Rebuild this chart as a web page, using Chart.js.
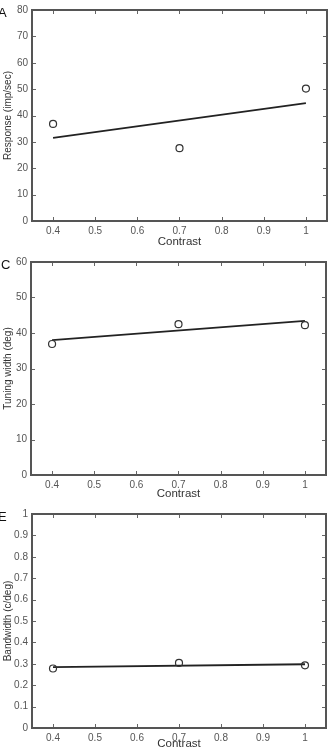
<!DOCTYPE html>
<html>
<head>
<meta charset="utf-8">
<script src="https://cdn.jsdelivr.net/npm/chart.js@4/dist/chart.umd.min.js"></script>
<style>
  body { margin: 0; background: #fff; width: 333px; height: 750px; overflow: hidden; font-family: "Liberation Sans", Arial, sans-serif; }
  .panel { position: relative; width: 333px; height: 250px; }
  .panel canvas { position: absolute; left: 0; top: 0; }
  .tag { position: absolute; font-size: 13px; line-height: 1; color: #111; }
</style>
</head>
<body>
<div class="panel"><canvas id="chartA" width="333" height="250"></canvas><span class="tag" style="left:-2px;top:6px">A</span></div>
<div class="panel"><canvas id="chartC" width="333" height="250"></canvas><span class="tag" style="left:1px;top:8px">C</span></div>
<div class="panel"><canvas id="chartE" width="333" height="250"></canvas><span class="tag" style="left:-2px;top:10px">E</span></div>
<script>
// measured points, one per contrast level
const contrast = [0.4, 0.7, 1]
const fitX = [0.4, 1]

const responseA = [36.8, 27.6, 50.2]
const responseFit = [31.5, 44.7]

const tuningC = [36.9, 42.5, 42.2]
const tuningFit = [38.0, 43.4]

const bandwidthE = [0.278, 0.304, 0.293]
const bandwidthFit = [0.284, 0.298]

const xTicks = [0.4, 0.5, 0.6, 0.7, 0.8, 0.9, 1]
const yTicksA = [0, 10, 20, 30, 40, 50, 60, 70, 80]
const yTicksC = [0, 10, 20, 30, 40, 50, 60]
const yTicksE = [0, 0.1, 0.2, 0.3, 0.4, 0.5, 0.6, 0.7, 0.8, 0.9, 1]

const tickColor = "#555"
const fmt = v => String(Math.round(v * 10) / 10)

// box frame + inward ticks on all four sides
const boxTicks = {
  id: "boxTicks",
  afterDraw(chart) {
    const { ctx, chartArea: a, scales: { x, y } } = chart
    ctx.save()
    ctx.strokeStyle = "#666"
    ctx.lineWidth = 1
    ctx.beginPath()
    x.ticks.forEach(t => {
      const px = Math.round(x.getPixelForValue(t.value)) + 0.5
      ctx.moveTo(px, a.bottom); ctx.lineTo(px, a.bottom - 4)
      ctx.moveTo(px, a.top); ctx.lineTo(px, a.top + 4)
    })
    y.ticks.forEach(t => {
      const py = Math.round(y.getPixelForValue(t.value)) + 0.5
      ctx.moveTo(a.left, py); ctx.lineTo(a.left + 4, py)
      ctx.moveTo(a.right, py); ctx.lineTo(a.right - 4, py)
    })
    ctx.stroke()
    ctx.strokeStyle = "#555"
    ctx.lineWidth = 2
    ctx.strokeRect(a.left, a.top, a.right - a.left, a.bottom - a.top)
    ctx.restore()
  }
}

function makeChart(id, values, fit, yMax, yTicks, yTitle, box) {
  new Chart(document.getElementById(id), {
    type: "scatter",
    data: {
      datasets: [
        {
          data: contrast.map((c, i) => ({ x: c, y: values[i] })),
          pointRadius: 3.5,
          pointBorderWidth: 1.2,
          borderColor: "#333",
          backgroundColor: "rgba(0,0,0,0)",
          showLine: false
        },
        {
          data: fitX.map((c, i) => ({ x: c, y: fit[i] })),
          showLine: true,
          pointRadius: 0,
          borderColor: "#222",
          borderWidth: 1.8
        }
      ]
    },
    options: {
      responsive: false,
      animation: false,
      devicePixelRatio: 1,
      layout: { padding: { top: box.top, right: 333 - box.right, left: 0, bottom: 0 } },
      plugins: { legend: { display: false }, tooltip: { enabled: false } },
      scales: {
        x: {
          type: "linear",
          min: 0.35,
          max: 1.05,
          afterBuildTicks: s => { s.ticks = xTicks.map(v => ({ value: v })) },
          afterFit: s => { s.height = 250 - box.bottom },
          grid: { display: false, drawTicks: false },
          border: { display: false },
          ticks: { color: tickColor, font: { size: 10, family: "Liberation Sans" }, padding: 4, maxRotation: 0, autoSkip: false, callback: fmt },
          title: { display: true, text: "Contrast", color: "#333", font: { size: 11.5, family: "Liberation Sans", lineHeight: 1 }, padding: { top: 0, bottom: box.titlePad } }
        },
        y: {
          min: 0,
          max: yMax,
          afterBuildTicks: s => { s.ticks = yTicks.map(v => ({ value: v })) },
          afterFit: s => { s.width = box.left },
          grid: { display: false, drawTicks: false },
          border: { display: false },
          ticks: { color: tickColor, font: { size: 10, family: "Liberation Sans" }, padding: 4, autoSkip: false, callback: fmt },
          title: { display: true, text: yTitle, color: "#333", font: { size: 10, family: "Liberation Sans", lineHeight: 1 }, padding: { top: 3, bottom: 0 } }
        }
      }
    },
    plugins: [boxTicks]
  })
}

makeChart("chartA", responseA, responseFit, 80, yTicksA, "Response (imp/sec)", { left: 32, top: 9, right: 327, bottom: 221, titlePad: 2 })
makeChart("chartC", tuningC, tuningFit, 60, yTicksC, "Tuning width (deg)", { left: 31, top: 12, right: 326, bottom: 225, titlePad: 0 })
makeChart("chartE", bandwidthE, bandwidthFit, 1, yTicksE, "Bandwidth (c/deg)", { left: 32, top: 14, right: 326, bottom: 228, titlePad: 0 })
</script>
</body>
</html>
